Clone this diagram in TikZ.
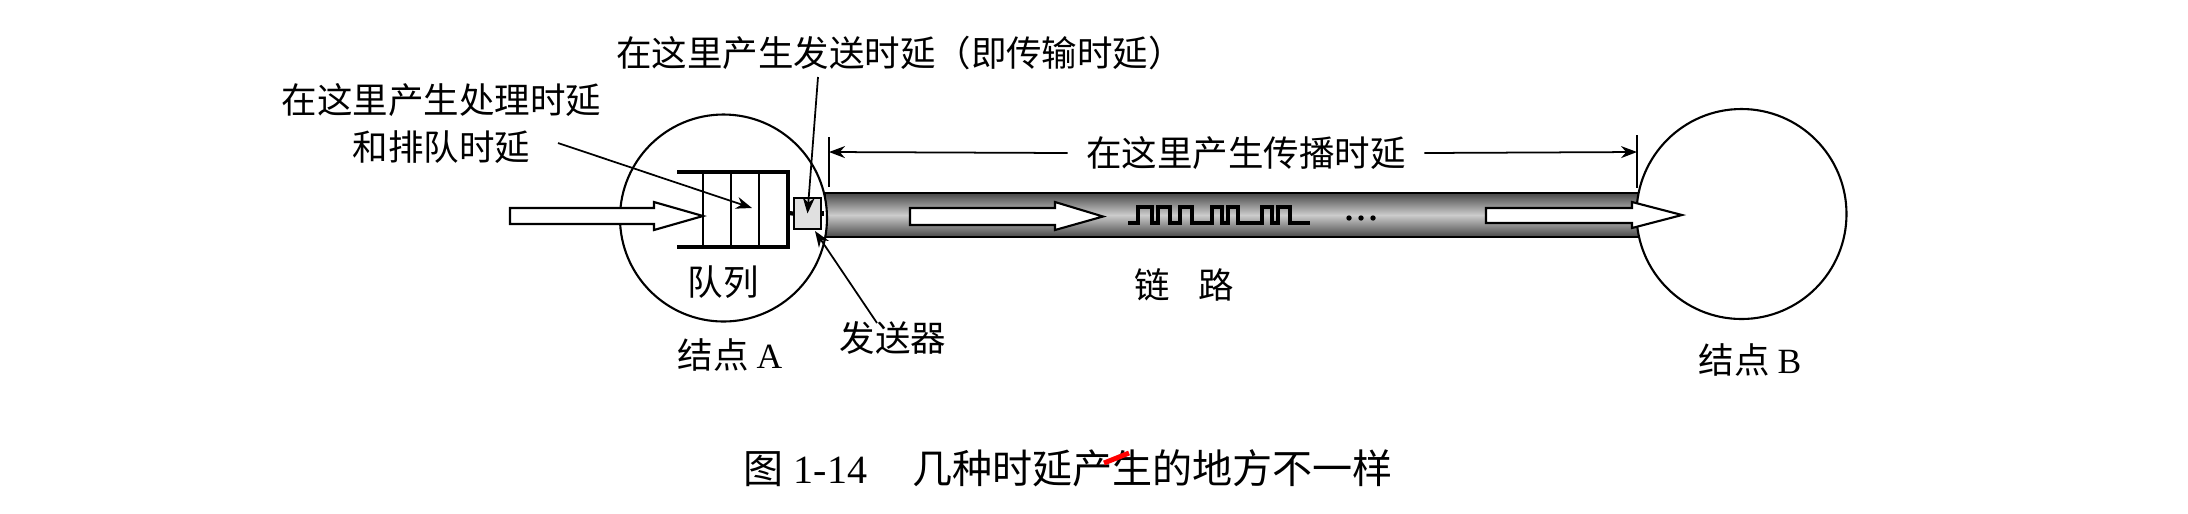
\documentclass[tikz,border=0pt]{standalone}
\usepackage{fontspec}
\setmainfont{Liberation Serif}
\newfontfamily\cjk{Noto Sans CJK SC}
\usetikzlibrary{arrows.meta}

\begin{document}
\begin{tikzpicture}[
  lbl/.style={font=\fontsize{10.1}{13.3}\selectfont\cjk,inner sep=0pt,align=center},
  arr/.style={-{Stealth[length=1.6mm,width=1.2mm]},line width=0.5pt},
  station/.style={draw,circle,fill=white,line width=0.6pt,inner sep=0pt},
  linkbar/.style={draw,line width=0.6pt,inner sep=0pt,minimum width=8.15cm,minimum height=0.44cm,
                  top color=black!72,bottom color=black!72,middle color=black!20},
  hollow/.style={draw,fill=white,line width=0.6pt},
  qbar/.style={line width=1.4pt}
]
\useasboundingbox (0,0) rectangle (21.88,-5.13);

\node[linkbar] (link) at (12.325,-2.15) {};
\node[station,minimum size=2.07cm] (nodeA) at (7.235,-2.18) {};
\node[station,minimum size=2.1cm] (nodeB) at (17.415,-2.14) {};

% queue in node A
\draw[qbar] (6.77,-1.72) -- (7.88,-1.72) -- (7.88,-2.47) -- (6.77,-2.47);
\foreach \x in {7.03,7.31,7.59}
  \draw[line width=0.5pt] (\x,-1.72) -- (\x,-2.47);
\coordinate (qout) at (7.88,-2.13);
\node[draw,fill=black!12,line width=0.6pt,minimum width=0.27cm,minimum height=0.31cm,inner sep=0pt]
  (sender) at (8.075,-2.135) {};
\draw[line width=1.2pt] (qout) -- (sender.west);
\draw[line width=1.2pt] (sender.east) -- (sender.east -| link.west);

% hollow arrows
\draw[hollow] (5.10,-2.08) -- (6.54,-2.08) -- (6.54,-2.02) -- (7.03,-2.16) -- (6.54,-2.30) -- (6.54,-2.24) -- (5.10,-2.24) -- cycle;
\draw[hollow] (9.10,-2.08) -- (10.55,-2.08) -- (10.55,-2.02) -- (11.03,-2.165) -- (10.55,-2.30) -- (10.55,-2.25) -- (9.10,-2.25) -- cycle;
\draw[hollow] (14.86,-2.08) -- (16.32,-2.08) -- (16.32,-2.02) -- (16.82,-2.15) -- (16.32,-2.28) -- (16.32,-2.23) -- (14.86,-2.23) -- cycle;

% bits on the link
\draw[line width=1pt] (11.28,-2.23) -- (11.38,-2.23) |- (11.52,-2.07) |- (11.58,-2.23) |- (11.70,-2.07)
  |- (11.80,-2.23) |- (11.92,-2.07) |- (12.12,-2.23) |- (12.22,-2.07) |- (12.28,-2.23) |- (12.38,-2.07)
  |- (12.62,-2.23) |- (12.72,-2.07) |- (12.78,-2.23) |- (12.90,-2.07) |- (13.10,-2.23);
\foreach \x in {13.49,13.61,13.73}
  \fill (\x,-2.18) circle (0.027);

% labels
\node[lbl] (queue) at (7.23,-2.82) {队列};
\node[lbl] (labelA) at (7.30,-3.55) {结点 {\rmfamily A}};
\node[lbl] (labelB) at (17.50,-3.60) {结点 {\rmfamily B}};
\node[lbl] (linklbl) at (11.84,-2.85) {链\hspace{0.8em}路};
\node[lbl] (sendlbl) at (8.93,-3.38) {发送器};
\node[lbl] (proc) at (4.415,-1.235) {在这里产生处理时延\\和排队时延};
\node[lbl] (trans) at (9.00,-0.53) {在这里产生发送时延（即传输时延）};
\node[lbl,inner xsep=0.18cm] (prop) at (12.46,-1.53) {在这里产生传播时延};

\coordinate (procfrom) at (5.58,-1.43);
\coordinate (procto) at (7.52,-2.08);
\coordinate (transfrom) at (8.18,-0.77);
\coordinate (sendfrom) at (8.77,-3.23);
\coordinate (sendto) at (8.15,-2.31);
\coordinate (propL) at (8.29,-1.52);
\coordinate (propR) at (16.37,-1.52);
\draw[arr] (procfrom) -- (procto);
\draw[arr] (transfrom) -- (sender.center);
\draw[arr] (sendfrom) -- (sendto);
\draw[arr] (prop.west) -- (propL);
\draw[arr] (prop.east) -- (propR);
\draw[line width=0.5pt] (8.29,-1.37) -- (8.29,-1.87);
\draw[line width=0.5pt] (16.37,-1.35) -- (16.37,-1.88);

\node[font=\fontsize{11.4}{13}\selectfont,inner sep=0pt,anchor=west] (caption) at (7.43,-4.68)
  {{\cjk 图} 1-14\hspace{0.45cm}{\cjk 几种时延产生的地方不一样}};
\draw[red,line width=1.4pt] (11.04,-4.63) -- (11.29,-4.53);
\end{tikzpicture}
\end{document}
